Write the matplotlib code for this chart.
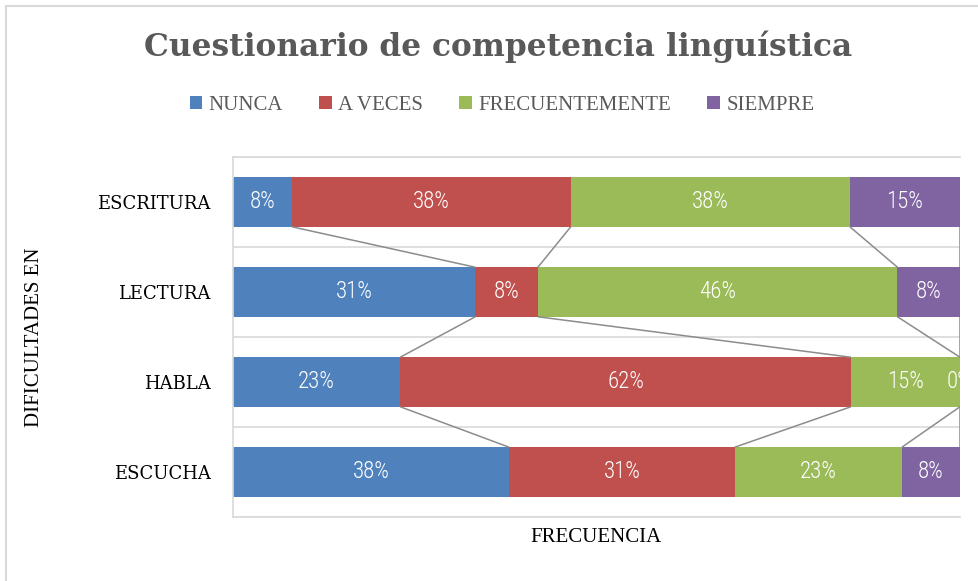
import matplotlib
matplotlib.use("Agg")
import matplotlib.pyplot as plt
from matplotlib.patches import Patch, Rectangle
from matplotlib import font_manager
import numpy as np

# ---- data ----
categories = ["ESCUCHA", "HABLA", "LECTURA", "ESCRITURA"]  # bottom to top
series_names = ["NUNCA", "A VECES", "FRECUENTEMENTE", "SIEMPRE"]
nunca = [38, 23, 31, 8]
a_veces = [31, 62, 8, 38]
frecuentemente = [23, 15, 46, 38]
siempre = [8, 0, 8, 15]
colors = ["#4F81BD", "#C0504D", "#9BBB59", "#8064A2"]

title = "Cuestionario de competencia linguística"
xlabel = "FRECUENCIA"
ylabel = "DIFICULTADES EN"

fonts = font_manager.fontManager.ttflist
available = {f.name for f in fonts}


def pick(cands, default):
    for c in cands:
        if c in available:
            return c
    return default


def wnum(w):
    if isinstance(w, (int, float)):
        return int(w)
    return font_manager.weight_dict.get(w, 400)


serif = ["Liberation Serif", "DejaVu Serif"]
label_family = pick(["Liberation Sans Narrow", "Roboto Condensed", "Open Sans Condensed",
                     "Noto Sans Condensed", "Roboto", "Open Sans"], "DejaVu Sans")
weights = sorted({wnum(f.weight) for f in fonts if f.name == label_family
                  and f.style == "normal"})
label_weight = 400
for w in weights:
    if w >= 300:
        label_weight = w
        break

W, H = 979, 581
fig = plt.figure(figsize=(W / 100, H / 100), dpi=100)

# outer chart border (left/top visible; the rest is cropped)
fig.patches.append(Rectangle((6 / W, -0.1), 1.2, 1 - 6 / H + 0.1, transform=fig.transFigure,
                             fill=False, edgecolor="#d9d9d9", linewidth=1.5))

left, right, top, bottom = 233, 960, 157, 517
ax = fig.add_axes([left / W, 1 - bottom / H, (right - left) / W, (bottom - top) / H])

data = np.array([nunca, a_veces, frecuentemente, siempre], dtype=float)  # series x category
totals = data.sum(axis=0)
frac = data / totals
cum = np.cumsum(frac, axis=0)
starts = cum - frac

y = np.arange(len(categories))
h = 0.55

# gridlines at category boundaries
for b in np.arange(-0.5, len(categories) + 0.5, 1.0):
    ax.axhline(b, color="#d9d9d9", lw=1.2, zorder=0)

for i, name in enumerate(series_names):
    ax.barh(y, frac[i], left=starts[i], height=h, color=colors[i], label=name, zorder=2)
    for k in range(len(categories)):
        ax.text(starts[i][k] + frac[i][k] / 2, y[k], f"{int(data[i][k])}%",
                ha="center", va="center", color="white", fontsize=16.5,
                family=[label_family, "DejaVu Sans"], fontweight=label_weight,
                zorder=4, clip_on=True)

# series lines
for i in range(len(series_names)):
    for k in range(len(categories) - 1):
        ax.plot([cum[i][k], cum[i][k + 1]], [y[k] + h / 2, y[k + 1] - h / 2],
                color="#8c8c8c", lw=1.1, zorder=3, solid_capstyle="butt")

ax.set_xlim(0, 1)
ax.set_ylim(-0.5, len(categories) - 0.5)
ax.set_yticks(y)
ax.set_yticklabels(categories, family=["DejaVu Serif"], fontsize=13, color="#000000")
ax.tick_params(axis="y", length=0, pad=16)
ax.set_xticks([])
for s in ax.spines.values():
    s.set_color("#d9d9d9")
    s.set_linewidth(1.2)
ax.spines["right"].set_visible(False)

fig.text(0.509, 1 - 47 / H, title, ha="center", va="center", fontsize=22.5,
         fontweight="bold", color="#595959", family=["DejaVu Serif"])
fig.text((left + right) / 2 / W, 1 - 537 / H, xlabel, ha="center", va="center",
         fontsize=15, color="#000000", family=serif)
fig.text(35 / W, 1 - 337 / H, ylabel, ha="center", va="center", rotation=90,
         fontsize=15, color="#000000", family=serif)

handles = [Patch(facecolor=c, edgecolor="none") for c in colors]
leg = fig.legend(handles, series_names, loc="center", bbox_to_anchor=(502 / W, 1 - 105 / H),
                 ncol=4, frameon=False, handlelength=0.6, handleheight=0.6,
                 handletextpad=0.3, columnspacing=1.75,
                 prop={"family": serif, "size": 15})
for t in leg.get_texts():
    t.set_color("#595959")

fig.savefig("out.png", dpi=100)
